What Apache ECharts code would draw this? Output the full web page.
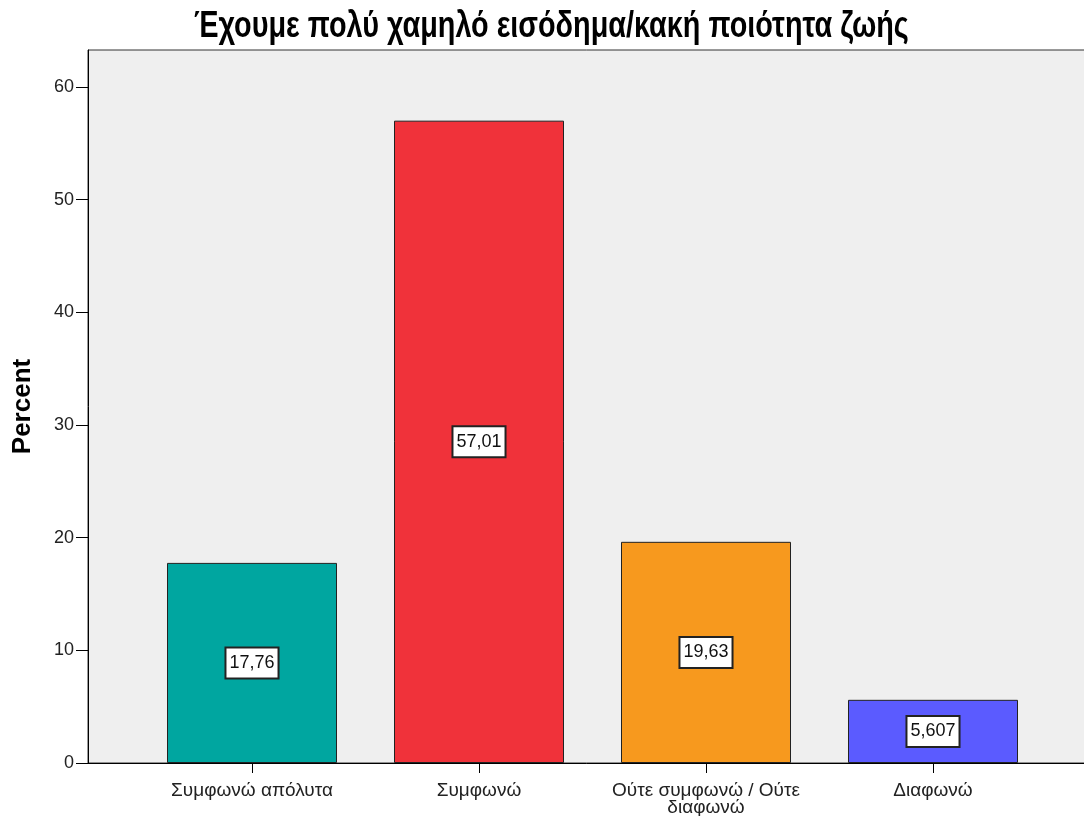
<!DOCTYPE html>
<html><head><meta charset="utf-8">
<script src="https://cdn.jsdelivr.net/npm/echarts@6/dist/echarts.min.js"></script>
<style>html,body{margin:0;padding:0;background:#fff}#c{width:1084px;height:816px}</style>
</head><body><div id="c"></div>
<script>
const titleText = 'Έχουμε πολύ χαμηλό εισόδημα/κακή ποιότητα ζωής';
const categories = ['Συμφωνώ απόλυτα', 'Συμφωνώ', 'Ούτε συμφωνώ / Ούτε\nδιαφωνώ', 'Διαφωνώ'];
const values = [17.76, 57.01, 19.63, 5.607];
const labels = ['17,76', '57,01', '19,63', '5,607'];
const colors = ['#00A6A0', '#F0323A', '#F7991E', '#5B5BFF'];
const yTicks = [0, 10, 20, 30, 40, 50, 60];

const FONT = 'Liberation Sans, Arial, sans-serif';
const yMax = 63.28;
const chart = echarts.init(document.getElementById('c'));
chart.setOption({
  animation: false,
  graphic: [{
    type: 'text', left: 194, top: 9, scaleX: 0.8, originX: 0,
    style: {text: titleText, font: 'bold 36px "Liberation Sans", Arial, sans-serif', fill: '#000'}
  }],
  grid: [
    {left: 88, width: 1009, top: 50, bottom: 53, outerBoundsMode: 'none', containLabel: false, show: true, backgroundColor: '#efefef', borderColor: '#333', borderWidth: 1},
    {left: 138.5, width: 908, top: 50, bottom: 53, outerBoundsMode: 'none', containLabel: false}
  ],
  xAxis: [
    {type: 'value', gridIndex: 0, min: 0, max: 1, axisLine: {show: true, lineStyle: {color: '#000'}}, axisTick: {show: false}, axisLabel: {show: false}, splitLine: {show: false}},
    {type: 'category', gridIndex: 1, data: categories, axisLine: {show: false},
     axisTick: {show: true, alignWithLabel: true, length: 10, lineStyle: {color: '#000'}},
     axisLabel: {fontFamily: FONT, fontSize: 19, color: '#222', margin: 19, lineHeight: 17, interval: 0}}
  ],
  yAxis: [
    {type: 'value', gridIndex: 0, min: 0, max: yMax,
     name: 'Percent', nameLocation: 'middle', nameGap: 52, nameRotate: 90,
     nameTextStyle: {fontFamily: FONT, fontWeight: 'bold', fontSize: 26, color: '#000'},
     axisLine: {show: true, lineStyle: {color: '#000'}},
     axisTick: {show: true, length: 12, customValues: yTicks, lineStyle: {color: '#000'}},
     axisLabel: {fontFamily: FONT, fontSize: 18, color: '#222', margin: 14, customValues: yTicks},
     splitLine: {show: false}},
    {type: 'value', gridIndex: 1, min: 0, max: yMax, show: false}
  ],
  series: [{
    type: 'bar', xAxisIndex: 1, yAxisIndex: 1, barWidth: 170,
    data: values.map((v, i) => ({value: v, itemStyle: {color: colors[i]}})),
    itemStyle: {borderColor: '#222', borderWidth: 1},
    label: {show: true, position: 'inside', formatter: p => labels[p.dataIndex],
      fontFamily: FONT, fontSize: 18, lineHeight: 20, color: '#111', backgroundColor: '#fff',
      borderColor: '#222', borderWidth: 2, padding: [5, 3, 4, 3]}
  }]
});
</script></body></html>
